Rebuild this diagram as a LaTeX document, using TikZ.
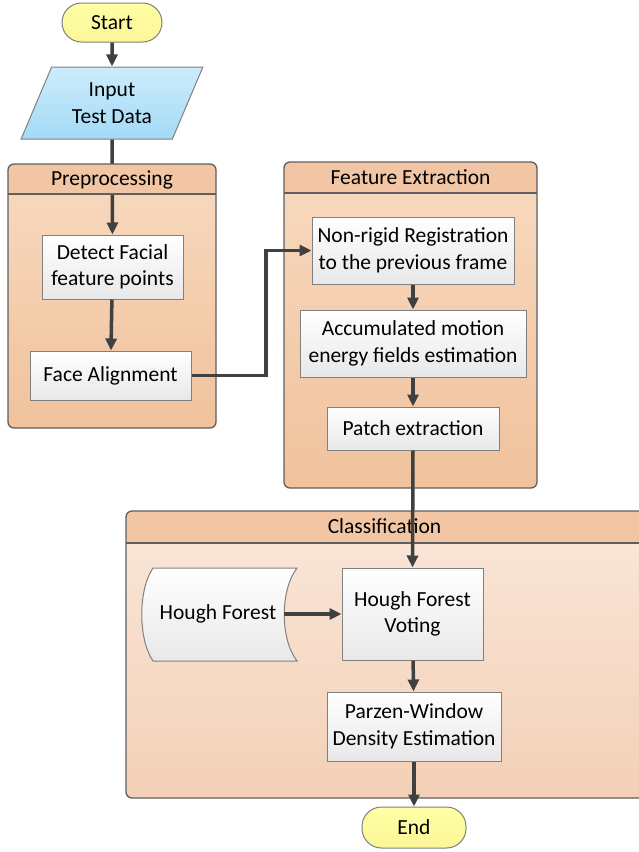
\documentclass[tikz,border=0pt]{standalone}
\usepackage{fontspec}
\setmainfont{Carlito}
\usetikzlibrary{arrows.meta,shapes.geometric}
\definecolor{boxgray}{RGB}{128,128,128}
\definecolor{contgray}{RGB}{95,95,95}
\definecolor{arrgray}{RGB}{64,64,64}
\definecolor{procbot}{RGB}{232,232,232}
\definecolor{termfill}{RGB}{255,255,166}
\definecolor{termbot}{RGB}{252,246,150}
\definecolor{intop}{RGB}{204,236,252}
\definecolor{inbot}{RGB}{164,218,246}
\definecolor{headcol}{RGB}{242,198,164}
\definecolor{bodytop}{RGB}{248,218,192}
\definecolor{bodybot}{RGB}{240,194,157}
\definecolor{cbodytop}{RGB}{250,231,218}
\definecolor{cbodybot}{RGB}{243,208,182}
\tikzset{
  txt/.style={font=\fontsize{21.5}{26.5}\selectfont, align=center, inner sep=0pt},
  proc/.style={txt, draw=boxgray, line width=1pt, top color=white, bottom color=procbot, shading angle=0},
  term/.style={txt, draw=boxgray, line width=1pt, top color=termfill, bottom color=termbot, rounded corners=19.5pt},
  arr/.style={draw=arrgray, line width=3.5pt, -{Triangle[length=12pt,width=11pt]}},
  plainline/.style={draw=arrgray, line width=3.5pt},
  contline/.style={draw=contgray, line width=1.3pt},
}
\begin{document}
\begin{tikzpicture}[x=1pt,y=-1pt]
\clip (0,0) rectangle (639,852);
\fill[white] (0,0) rectangle (639,852);
% container bodies
\shade[top color=bodytop, bottom color=bodybot, rounded corners=6pt] (8,164) rectangle (216,428);
\shade[top color=bodytop, bottom color=bodybot, rounded corners=6pt] (284,162) rectangle (537,488);
\shade[top color=cbodytop, bottom color=cbodybot, rounded corners=6pt] (126,511) rectangle (645,798);
% nodes of first column
\node[term, minimum width=100pt, minimum height=39pt] (start) at (112,22.5) {Start};
\node[txt, trapezium, trapezium left angle=63.4, trapezium right angle=116.6, trapezium stretches=true,
      minimum width=182pt, minimum height=72pt, draw=boxgray, line width=1pt,
      top color=intop, bottom color=inbot] (input) at (112,103) {Input\\Test Data};
\node[proc, minimum width=141pt, minimum height=64pt] (detect) at (112.5,267) {Detect Facial\\feature points};
\draw[arr] (start) -- (input);
\draw[arr] (input) -- (detect);
% headers
\fill[headcol] (8,194) [rounded corners=6pt] -- (8,164) -- (216,164) [sharp corners] -- (216,194) -- cycle;
\draw[contline, rounded corners=6pt] (8,164) rectangle (216,428);
\draw[contline] (8,194) -- (216,194);
\node[txt] (prehead) at (112,179.5) {Preprocessing};
\fill[headcol] (284,193) [rounded corners=6pt] -- (284,162) -- (537,162) [sharp corners] -- (537,193) -- cycle;
\draw[contline, rounded corners=6pt] (284,162) rectangle (537,488);
\draw[contline] (284,193) -- (537,193);
\node[txt] (fehead) at (410.5,177.5) {Feature Extraction};
\fill[headcol] (126,543) [rounded corners=6pt] -- (126,511) -- (645,511) [sharp corners] -- (645,543) -- cycle;
\draw[contline, rounded corners=6pt] (126,511) rectangle (645,798);
\draw[contline] (126,543) -- (645,543);
\node[txt] (clhead) at (384.5,526.5) {Classification};
% process nodes
\node[proc, minimum width=161pt, minimum height=49pt] (face) at (110.5,375.5) {Face Alignment};
\node[proc, minimum width=202pt, minimum height=67pt] (nonrigid) at (413,250.5) {Non-rigid Registration\\to the previous frame};
\node[proc, minimum width=226pt, minimum height=67pt] (accum) at (413,343.5) {Accumulated motion\\energy fields estimation};
\node[proc, minimum width=172pt, minimum height=43pt] (patch) at (413,428.5) {Patch extraction};
\node[proc, minimum width=141pt, minimum height=92pt] (voting) at (412.5,614) {Hough Forest\\Voting};
\node[proc, minimum width=174pt, minimum height=69pt] (parzen) at (414,726.5) {Parzen-Window\\Density Estimation};
\node[term, minimum width=104pt, minimum height=41pt] (end) at (414,827.5) {End};
% stored data
\draw[draw=boxgray, line width=1pt, top color=white, bottom color=procbot]
  (153,568) -- (297,568) .. controls (280,590) and (280,639) .. (297,661)
  -- (153,661) .. controls (138,639) and (138,590) .. (153,568) -- cycle;
\node[txt] (hf) at (218,614) {Hough Forest};
\coordinate (hfout) at (284,614);
% connectors
\draw[arr] (detect) -- (face);
\draw[arr] (face.east) -- (266,375.5) |- (nonrigid.west);
\draw[arr] (nonrigid) -- (accum);
\draw[arr] (accum) -- (patch);
\draw[arr] (patch.south) -- (voting.north);
\draw[arr] (hfout) -- (voting.west);
\draw[arr] (voting) -- (parzen);
\draw[arr] (parzen) -- (end);
\end{tikzpicture}
\end{document}
